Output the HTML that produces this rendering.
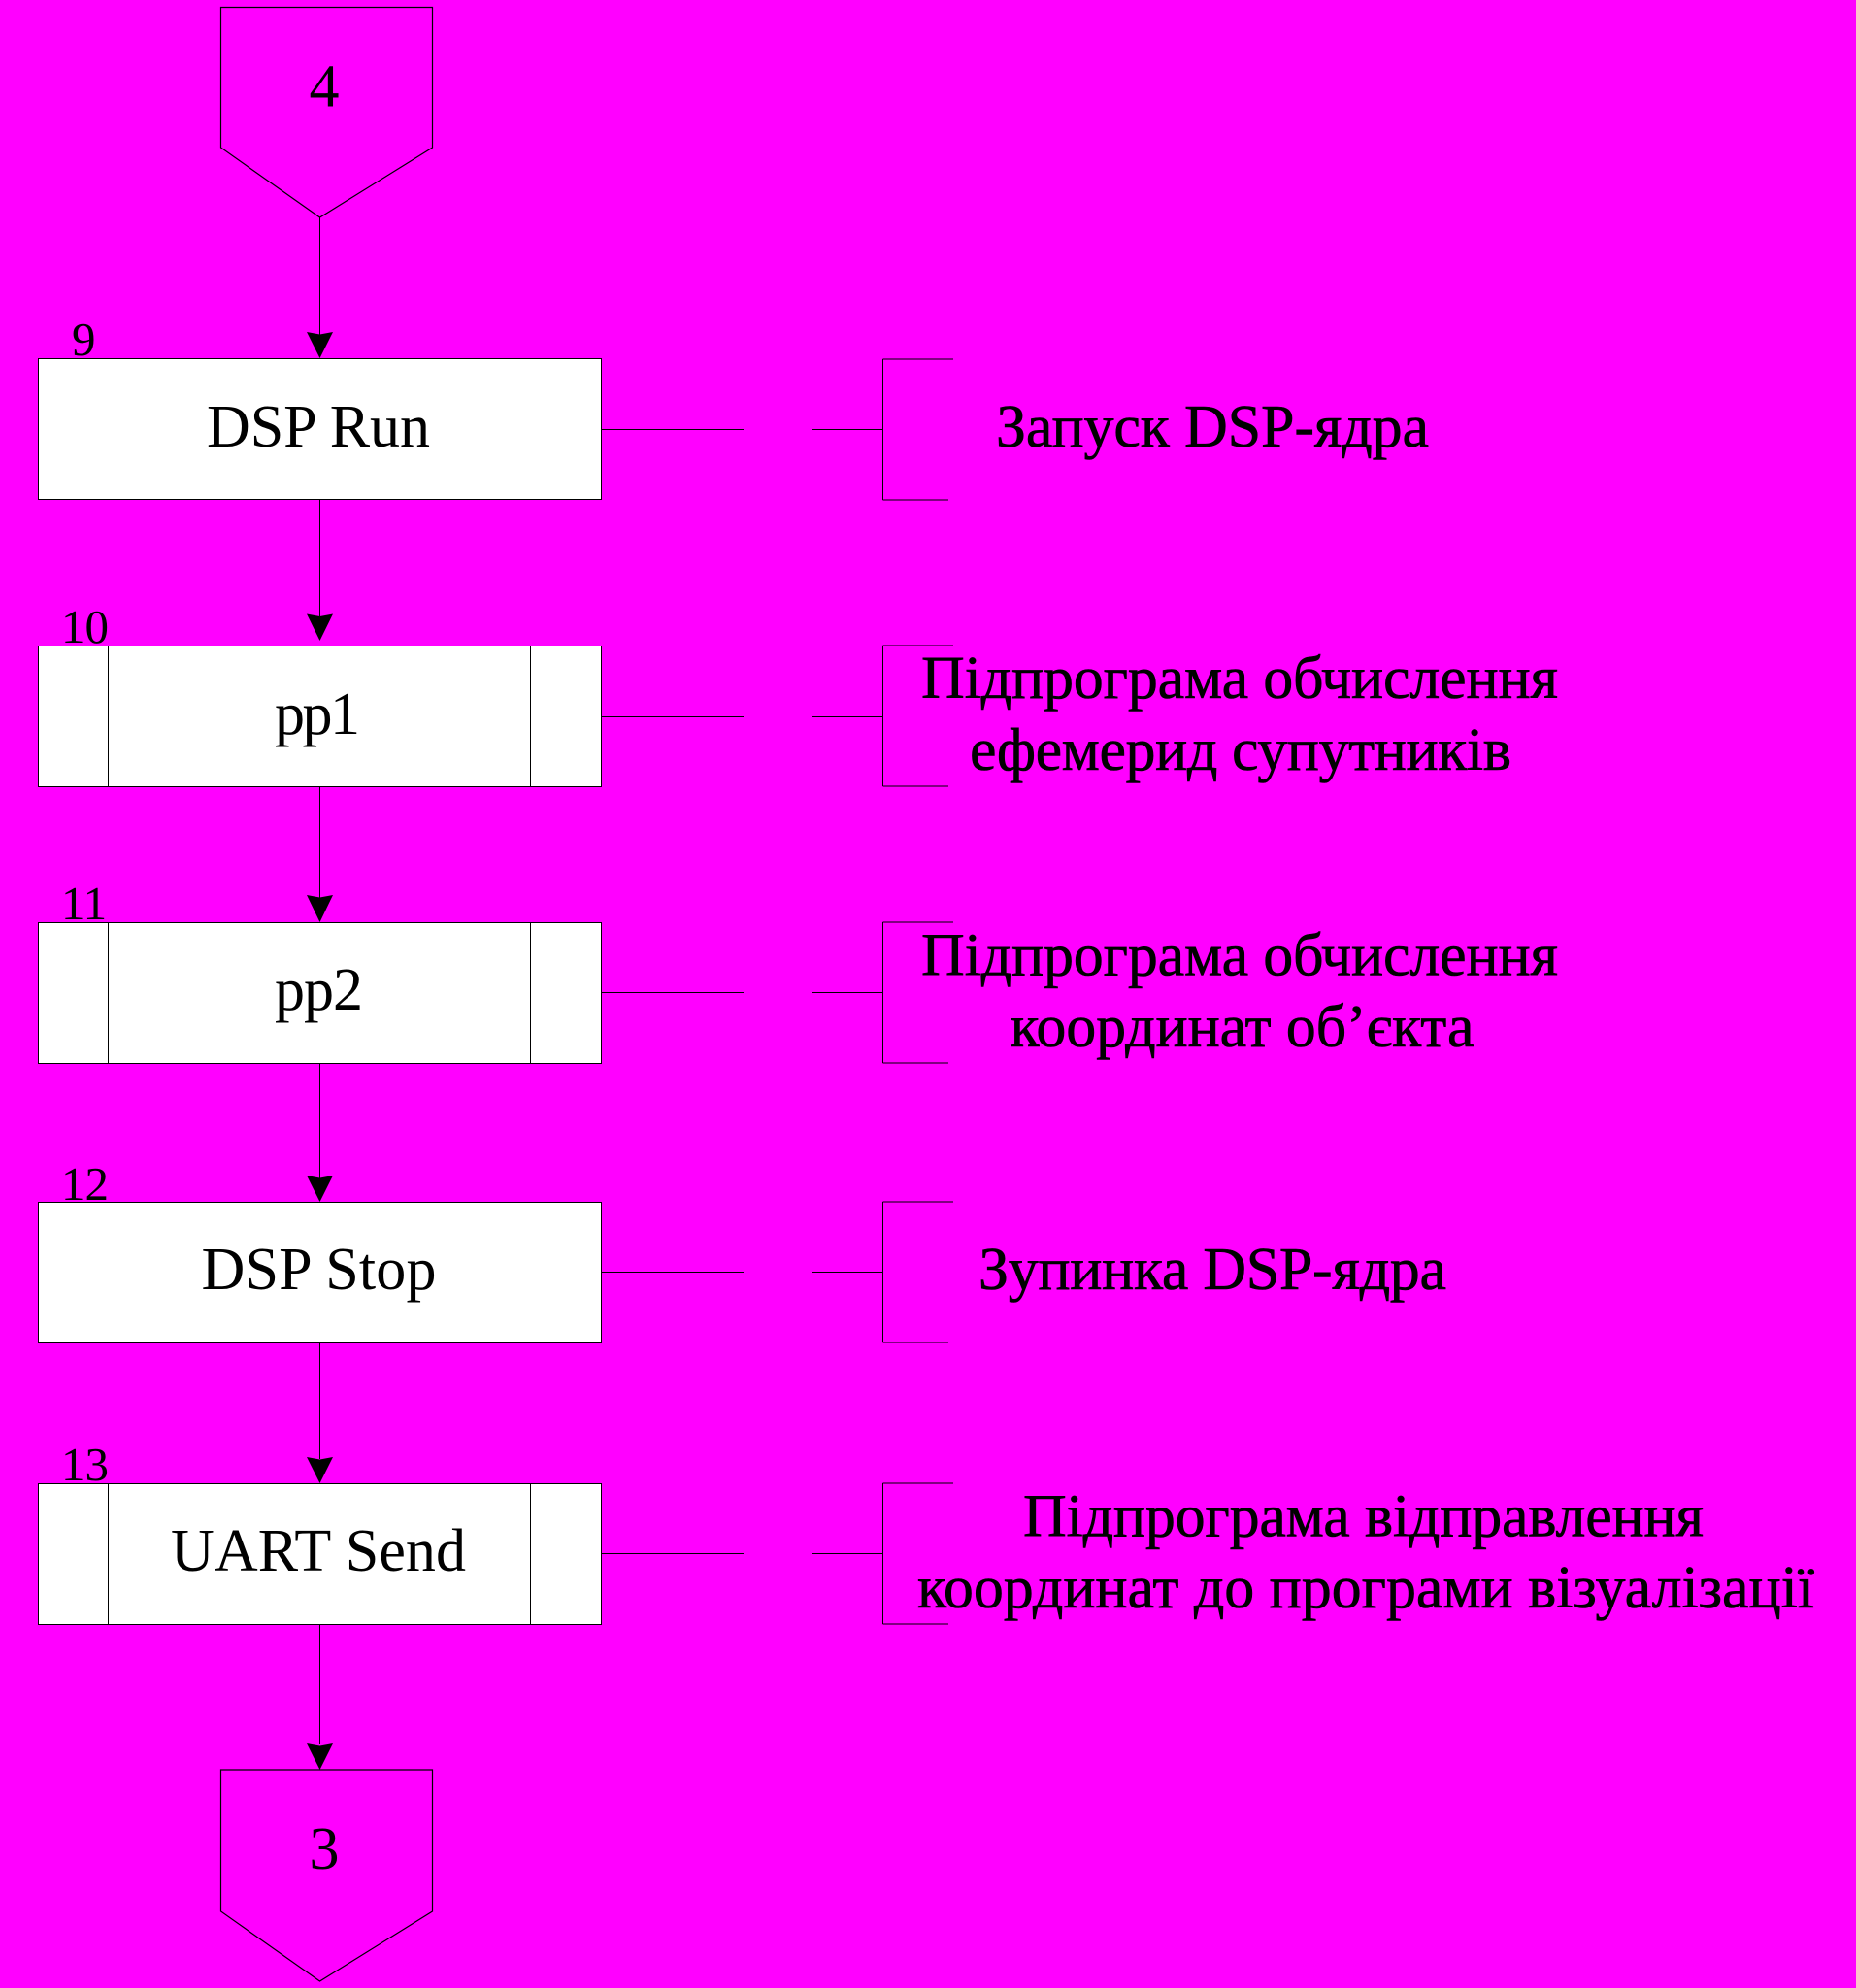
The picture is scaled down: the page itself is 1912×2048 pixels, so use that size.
<!DOCTYPE html>
<html><head><meta charset="utf-8"><style>
html,body{margin:0;padding:0;background:#ff00ff;width:1912px;height:2048px;overflow:hidden}
svg{display:block}
text{font-family:"Liberation Serif","Noto Serif CJK SC",serif;fill:#000}
.m{font-size:62px}.n{font-size:49px}
.b{stroke:#000;stroke-width:.6px}
</style></head><body>
<svg width="1912" height="2048" viewBox="0 0 1912 2048" xmlns="http://www.w3.org/2000/svg">
<rect width="1912" height="2048" fill="#ff00ff"/>
<g fill="none" stroke="#000" stroke-width="1.2">
<polygon points="227.5,7.500 445.5,7.500 445.5,152 329.5,224 227.5,152"/>
<polygon points="227.5,1823 445.5,1823 445.5,1969 329.5,2041 227.5,1969"/>
</g>
<g stroke="#000" stroke-width="1.3" fill="#fff" shape-rendering="crispEdges">
<rect x="39.5" y="369.5" width="580" height="145"/>
<rect x="39.5" y="665.5" width="580" height="145"/>
<rect x="39.5" y="950.5" width="580" height="145"/>
<rect x="39.5" y="1238.5" width="580" height="145"/>
<rect x="39.5" y="1528.5" width="580" height="145"/>
</g>
<g stroke="#000" stroke-width="1" fill="none" shape-rendering="crispEdges">
<path d="M111.5 665V810M546.5 665V810M111.5 950V1095M546.5 950V1095M111.5 1528V1673M546.5 1528V1673"/>
<path d="M329.5 224V345M329.5 514V640M329.5 810V925M329.5 1095V1214M329.5 1383V1503M329.5 1673V1797"/>
<path d="M620 442.500H766M836 442.500H909M620 738.500H766M836 738.500H909M620 1022.500H766M836 1022.500H909M620 1310.500H766M836 1310.500H909M620 1600.500H766M836 1600.500H909"/>
<path d="M909.500 370V515M909.500 370H982M909.500 515H977"/>
<path d="M909.500 665V810M909.500 665H982M909.500 810H977"/>
<path d="M909.500 950V1095M909.500 950H982M909.500 1095H977"/>
<path d="M909.500 1238V1383M909.500 1238H982M909.500 1383H977"/>
<path d="M909.500 1528V1673M909.500 1528H982M909.500 1673H977"/>
</g>
<g fill="#000">
<polygon points="316,342 329.500,344.500 343,342 329.500,369"/>
<polygon points="316,632.500 329.500,635 343,632.500 329.500,660"/>
<polygon points="316,922 329.500,924.500 343,922 329.500,950"/>
<polygon points="316,1211 329.500,1213.500 343,1211 329.500,1238"/>
<polygon points="316,1501 329.500,1503.500 343,1501 329.500,1528"/>
<polygon points="316,1796 329.500,1798.500 343,1796 329.500,1823"/>
</g>
<text class="m" x="334" y="109.500" text-anchor="middle">4</text>
<text class="m" x="334" y="1925" text-anchor="middle">3</text>
<text class="n" x="74" y="366">9</text>
<text class="n" x="63" y="662">10</text>
<text class="n" x="63" y="947">11</text>
<text class="n" x="63" y="1236">12</text>
<text class="n" x="63" y="1525">13</text>
<text class="m" x="213" y="460" textLength="230">DSP Run</text>
<text class="m" x="283" y="756" textLength="88">pp1</text>
<text class="m" x="283" y="1040" textLength="91">pp2</text>
<text class="m" x="207.500" y="1328" textLength="242">DSP Stop</text>
<text class="m" x="176" y="1618" textLength="304">UART Send</text>
<text class="m b" x="1026" y="460" textLength="446">Запуск DSP-ядра</text>
<text class="m b" x="949" y="719" textLength="656">Підпрограма обчислення</text>
<text class="m b" x="999" y="793" textLength="558">ефемерид супутників</text>
<text class="m b" x="949" y="1004.500" textLength="656">Підпрограма обчислення</text>
<text class="m b" x="1040.500" y="1078" textLength="478">координат об’єкта</text>
<text class="m b" x="1008" y="1328" textLength="482">Зупинка DSP-ядра</text>
<text class="m b" x="1054" y="1582.500" textLength="701">Підпрограма відправлення</text>
<text class="m b" x="945" y="1656" textLength="924">координат до програми візуалізації</text>
</svg>
</body></html>
